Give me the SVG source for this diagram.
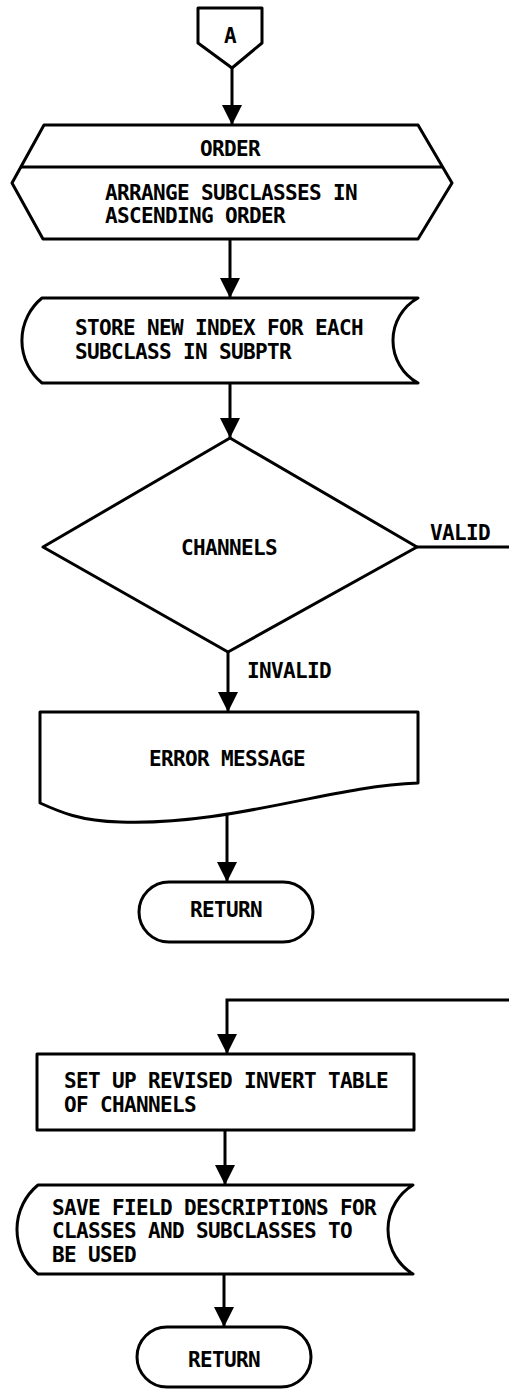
<svg xmlns="http://www.w3.org/2000/svg" width="509" height="1389" viewBox="0 0 509 1389">
<style>
.s{fill:#fff;stroke:#000;stroke-width:3;stroke-linejoin:round}
.c{fill:none;stroke:#000;stroke-width:3}
.t{font-family:"DejaVu Sans Mono","Liberation Mono",monospace;font-size:21px;font-weight:bold;letter-spacing:-0.64px;fill:#000}
.m{text-anchor:middle}
</style>
<defs>
<marker id="ah" markerUnits="userSpaceOnUse" markerWidth="20" markerHeight="20" viewBox="0 0 20 20" refX="20" refY="10" orient="auto">
<path d="M0,0 L20,10 L0,20 Z" fill="#000"/>
</marker>
</defs>
<rect width="509" height="1389" fill="#fff"/>
<g id="connectors">
<line class="c" x1="232" y1="68" x2="232" y2="125" marker-end="url(#ah)"/>
<line class="c" x1="230" y1="239" x2="230" y2="298" marker-end="url(#ah)"/>
<line class="c" x1="230" y1="383" x2="230" y2="438" marker-end="url(#ah)"/>
<line class="c" x1="417" y1="547" x2="509" y2="547"/>
<line class="c" x1="228" y1="652" x2="228" y2="712" marker-end="url(#ah)"/>
<line class="c" x1="227" y1="812" x2="227" y2="882" marker-end="url(#ah)"/>
<polyline class="c" points="509,1000 227,1000 227,1054" marker-end="url(#ah)"/>
<line class="c" x1="225" y1="1130" x2="225" y2="1185" marker-end="url(#ah)"/>
<line class="c" x1="224" y1="1274" x2="224" y2="1327" marker-end="url(#ah)"/>
<text class="t" x="430" y="540">VALID</text>
<text class="t" x="247" y="678">INVALID</text>
</g>
<g id="connA">
<path class="s" d="M198,8 L262,8 L262,43 L232,68 L198,43 Z"/>
<text class="t m" x="230" y="43">A</text>
</g>
<g id="order">
<path class="s" d="M44,125 L418,125 L452,183 L418,239 L43,239 L12,183 Z"/>
<line class="c" x1="21" y1="167" x2="443" y2="167"/>
<text class="t m" x="230" y="156">ORDER</text>
<text class="t" x="105" y="200">ARRANGE SUBCLASSES IN</text>
<text class="t" x="105" y="223">ASCENDING ORDER</text>
</g>
<g id="store">
<path class="s" d="M42,298 L418,298 A48.6,48.6 0 0 0 418,383 L42,383 A55,55 0 0 1 42,298 Z"/>
<text class="t" x="75" y="335">STORE NEW INDEX FOR EACH</text>
<text class="t" x="75" y="359">SUBCLASS IN SUBPTR</text>
</g>
<g id="channels">
<path class="s" d="M230,438 L417,547 L228,652 L43,547 Z"/>
<text class="t m" x="229" y="555">CHANNELS</text>
</g>
<g id="error">
<path class="s" d="M40,712 L418,712 L418,783 C330,786 230,826 120,822 C80,821 60,812 40,803 Z"/>
<text class="t m" x="227" y="766">ERROR MESSAGE</text>
</g>
<g id="return1">
<rect class="s" x="139" y="882" width="174" height="60" rx="30"/>
<text class="t m" x="226" y="917">RETURN</text>
</g>
<g id="setup">
<rect class="s" x="37" y="1054" width="377" height="76"/>
<text class="t" x="64" y="1088">SET UP REVISED INVERT TABLE</text>
<text class="t" x="64" y="1112">OF CHANNELS</text>
</g>
<g id="save">
<path class="s" d="M38,1185 L413,1185 A52.1,52.1 0 0 0 413,1274 L38,1274 A57.6,57.6 0 0 1 38,1185 Z"/>
<text class="t" x="52" y="1215">SAVE FIELD DESCRIPTIONS FOR</text>
<text class="t" x="52" y="1238">CLASSES AND SUBCLASSES TO</text>
<text class="t" x="52" y="1262">BE USED</text>
</g>
<g id="return2">
<rect class="s" x="137" y="1327" width="174" height="60" rx="30"/>
<text class="t m" x="224" y="1367">RETURN</text>
</g>
</svg>
